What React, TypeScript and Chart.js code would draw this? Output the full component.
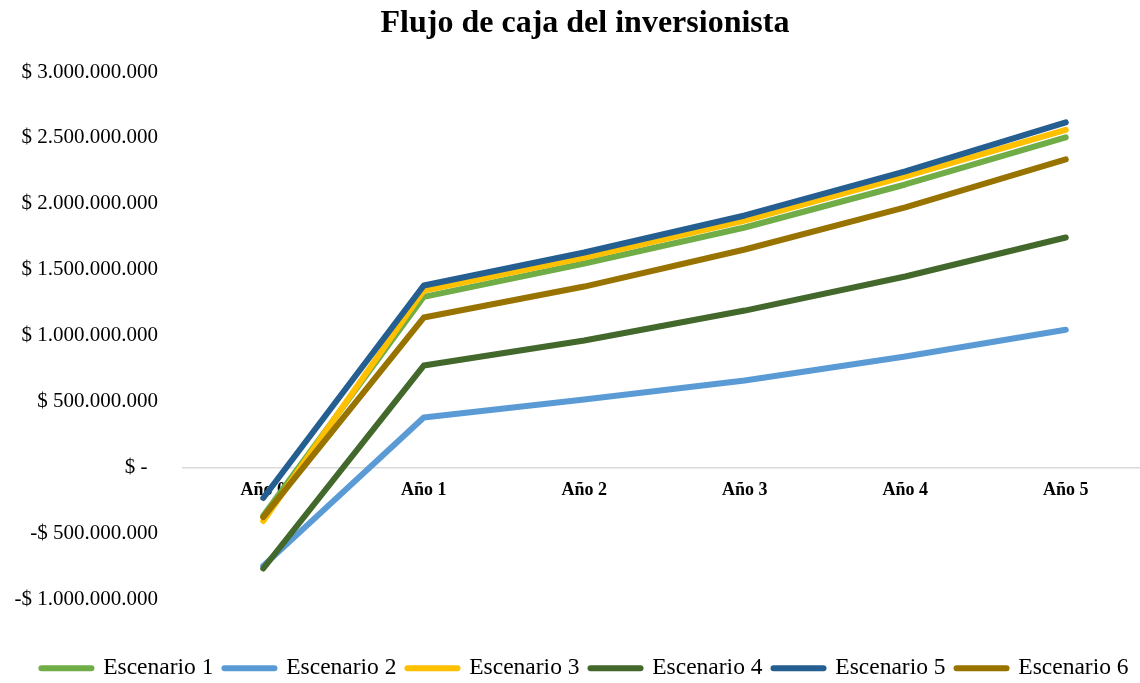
import React, { useEffect, useRef } from "react";
import { Chart, registerables } from "chart.js";

Chart.register(...registerables);

const categories = ["Año 0", "Año 1", "Año 2", "Año 3", "Año 4", "Año 5"];
const escenario1 = [-365e6, 1295e6, 1548e6, 1821e6, 2147e6, 2504e6];
const escenario2 = [-745e6, 380e6, 516e6, 660e6, 842e6, 1045e6];
const escenario3 = [-405e6, 1343e6, 1593e6, 1874e6, 2208e6, 2562e6];
const escenario4 = [-765e6, 774e6, 964e6, 1191e6, 1449e6, 1745e6];
const escenario5 = [-230e6, 1381e6, 1631e6, 1912e6, 2246e6, 2618e6];
const escenario6 = [-375e6, 1138e6, 1373e6, 1654e6, 1973e6, 2337e6];

const seriesNames = ["Escenario 1", "Escenario 2", "Escenario 3", "Escenario 4", "Escenario 5", "Escenario 6"];
const seriesValues = [escenario1, escenario2, escenario3, escenario4, escenario5, escenario6];
const seriesColors = ["#70AD47", "#5B9BD5", "#FFC000", "#43682B", "#255E91", "#997300"];

const yMin = -1e9;
const yMax = 3e9;
const yStep = 5e8;

const FONT = "'Liberation Serif', 'Times New Roman', serif";

function fmt(v: number): string {
  if (v === 0) return "$ -  ";
  const abs = Math.abs(v).toFixed(0).replace(/\B(?=(\d{3})+(?!\d))/g, ".");
  return (v < 0 ? "-$ " : "$ ") + abs;
}

const unclipY = {
  id: "unclipY",
  afterLayout(chart: any) {
    if (chart.scales.y) chart.scales.y.left = 0;
  },
};

export default function App() {
  const ref = useRef<HTMLCanvasElement | null>(null);
  useEffect(() => {
    if (!ref.current) return;
    const chart = new Chart(ref.current, {
      type: "line",
      data: {
        labels: categories,
        datasets: seriesValues.map((vals, i) => ({
          label: seriesNames[i],
          data: vals,
          borderColor: seriesColors[i],
          backgroundColor: seriesColors[i],
          borderWidth: 6,
          borderCapStyle: "round",
          borderJoinStyle: "round",
          pointRadius: 0,
          pointHoverRadius: 0,
          tension: 0,
          fill: false,
          xAxisID: "x",
          order: seriesValues.length - 1 - i,
        })),
      },
      plugins: [unclipY],
      options: {
        responsive: false,
        animation: false,
        layout: { padding: { left: 24, right: 0, top: 0, bottom: 0 } },
        plugins: {
          title: {
            display: true,
            text: "Flujo de caja del inversionista",
            color: "#000",
            font: { family: FONT, size: 32, weight: "bold" },
            padding: { top: 5, bottom: 28.6 },
          },
          legend: {
            display: true,
            position: "bottom",
            labels: {
              usePointStyle: true,
              pointStyle: "line",
              pointStyleWidth: 50,
              padding: 11,
              color: "#000",
              font: { family: FONT, size: 23.5 },
              generateLabels: () =>
                seriesNames.map((name, i) => ({
                  text: name,
                  fillStyle: seriesColors[i],
                  strokeStyle: seriesColors[i],
                  fontColor: "#000",
                  lineWidth: 6,
                  lineCap: "round",
                  pointStyle: "line",
                  hidden: false,
                  datasetIndex: i,
                })) as any,
            },
          },
          tooltip: { enabled: false },
        },
        scales: {
          x: {
            type: "category",
            position: { y: 0 } as any,
            offset: true,
            grid: { display: false, drawTicks: false },
            border: { display: true, color: "#D9D9D9", width: 1.5 },
            ticks: {
              color: "#000",
              font: { family: FONT, size: 18, weight: "bold" },
              padding: 12,
              maxRotation: 0,
              autoSkip: false,
            },
          },
          x2: {
            type: "category",
            position: "bottom",
            offset: true,
            display: true,
            grid: { display: false, drawTicks: false },
            border: { display: false },
            ticks: { display: false },
            afterFit: (s: any) => {
              s.height = 46;
            },
          },
          y: {
            type: "linear",
            min: yMin,
            max: yMax,
            grid: { display: false, drawTicks: false },
            border: { display: false },
            ticks: {
              stepSize: yStep,
              color: "#000",
              font: { family: FONT, size: 21 },
              padding: 25,
              callback: (v: any) => fmt(Number(v)),
            },
            afterFit: (s: any) => {
              s.width = 159;
            },
          },
        },
      },
    });
    return () => chart.destroy();
  }, []);
  return (
    <div
      style={{
        position: "absolute",
        left: 0,
        top: 0,
        width: 1140,
        height: 683,
        overflow: "hidden",
        background: "#fff",
      }}
    >
      <canvas ref={ref} width={1146} height={690} style={{ display: "block" }} />
    </div>
  );
}
